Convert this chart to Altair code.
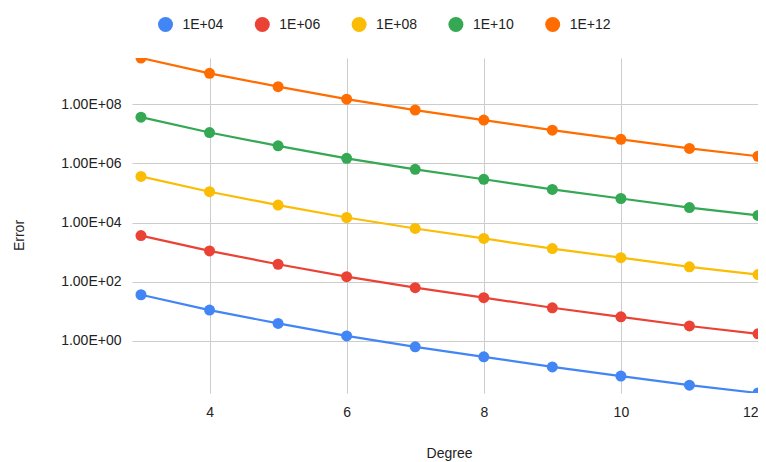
import altair as alt
import pandas as pd

degrees = [3, 4, 5, 6, 7, 8, 9, 10, 11, 12]
series_names = ["1E+04", "1E+06", "1E+08", "1E+10", "1E+12"]
err_1e04 = [36.3, 11.0, 3.9, 1.48, 0.63, 0.29, 0.132, 0.065, 0.032, 0.0174]
err_1e06 = [3630, 1100, 390, 148, 63, 29, 13.2, 6.5, 3.2, 1.74]
err_1e08 = [363000, 110000, 39000, 14800, 6300, 2900, 1320, 650, 320, 174]
err_1e10 = [3.63e7, 1.10e7, 3.9e6, 1.48e6, 6.3e5, 2.9e5, 1.32e5, 6.5e4, 3.2e4, 1.74e4]
err_1e12 = [3.63e9, 1.10e9, 3.9e8, 1.48e8, 6.3e7, 2.9e7, 1.32e7, 6.5e6, 3.2e6, 1.74e6]
colors = ["#4285F4", "#EA4335", "#FBBC04", "#34A853", "#FF6D01"]
y_ticks = [1, 100, 1e4, 1e6, 1e8]
x_ticks = [4, 6, 8, 10, 12]

rows = []
for name, vals in zip(series_names, [err_1e04, err_1e06, err_1e08, err_1e10, err_1e12]):
    for d, v in zip(degrees, vals):
        rows.append({"Degree": d, "Error": v, "Series": name})
df = pd.DataFrame(rows)

FONT = "Liberation Sans"
TXT = "#222222"

x_enc = alt.X(
    "Degree:Q",
    scale=alt.Scale(domain=[2.869, 12.0], nice=False, zero=False),
    axis=alt.Axis(
        values=x_ticks, title="Degree", grid=True, domain=False, ticks=False,
        labelPadding=12, labelFontSize=14, labelColor=TXT, labelFont=FONT,
        titleFontSize=14, titleFont=FONT, titleColor=TXT, titleFontWeight="normal",
        titleBaseline="alphabetic", titleY=64, titleX=317,
        labelFlush=True, labelFlushOffset=0,
        gridColor="#cccccc", gridWidth=1,
    ),
)
y_enc = alt.Y(
    "Error:Q",
    scale=alt.Scale(type="log", domain=[0.0174, 3.63e9], nice=False),
    axis=alt.Axis(
        values=y_ticks, title="Error", grid=True, domain=False, ticks=False,
        labelExpr="'1.00E+' + (round(log(datum.value)/LN10) < 10 ? '0' : '') + format(round(log(datum.value)/LN10), 'd')",
        labelPadding=11, labelFontSize=14, labelColor=TXT, labelFont=FONT,
        titleFontSize=14, titleFont=FONT, titleColor=TXT, titleFontWeight="normal",
        titleAngle=270, titleAlign="center", titleBaseline="alphabetic",
        titleX=-109, titleY=177,
        gridColor="#cccccc", gridWidth=1,
    ),
)
cscale = alt.Scale(domain=series_names, range=colors)
legend = alt.Legend(
    title=None, orient="none", legendX=26, legendY=-41, direction="horizontal",
    symbolType="circle", symbolSize=225, symbolStrokeWidth=0, symbolOpacity=1,
    labelFontSize=14, labelFont=FONT, labelColor=TXT, labelOffset=9.5,
    columnPadding=30.8, padding=0,
)

lines = alt.Chart(df).mark_line(strokeWidth=2.2, clip=True).encode(
    x=x_enc, y=y_enc,
    color=alt.Color("Series:N", scale=cscale, legend=legend),
)
points = alt.Chart(df).mark_circle(size=121, opacity=1, clip=True).encode(
    x=x_enc, y=y_enc,
    color=alt.Color("Series:N", scale=cscale, legend=legend),
)

chart = (
    alt.layer(lines, points)
    .properties(
        width=626, height=335,
        autosize=alt.AutoSizeParams(type="none"),
        padding={"left": 124, "top": 50, "right": 0, "bottom": 69},
    )
    .configure_view(strokeWidth=0)
)

chart.save("out.html", embed_options={"renderer": "svg", "actions": False})
